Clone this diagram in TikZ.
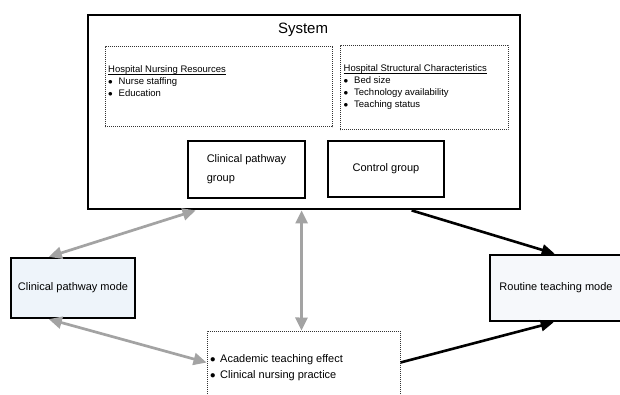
\documentclass[tikz,border=0pt]{standalone}
\usepackage{fontspec}
\setmainfont{Liberation Sans}
\usetikzlibrary{arrows.meta,calc}
\definecolor{arrgray}{HTML}{A3A3A3}
\definecolor{modefill}{HTML}{EEF4FA}
\definecolor{routfill}{HTML}{F6F8FB}
\newcommand\mybul{\makebox[10.5pt][l]{$\bullet$}}
\newcommand\mybulb{\makebox[10pt][l]{$\bullet$}}
\newcommand\myul[1]{\setbox0\hbox{#1}\rlap{\rule[-1.7pt]{\wd0}{0.6pt}}\box0}
\begin{document}
\begin{tikzpicture}[x=1pt,y=-1pt,
  sysbox/.style={draw=black, line width=2.8pt, fill=white, inner sep=0pt},
  dashbox/.style={draw=black!80, line width=1pt, dash pattern=on 1.2pt off 0.8pt, inner sep=0pt},
  groupbox/.style={draw=black, line width=1.7pt, inner sep=0pt, align=left, font=\fontsize{11}{19}\selectfont},
  modebox/.style={draw=black, line width=2.3pt, inner sep=0pt, font=\fontsize{11}{13}\selectfont},
  listtext/.style={inner sep=0pt, align=left, anchor=north west, font=\fontsize{9.5}{12}\selectfont},
  grayarrow/.style={draw=arrgray, line width=2.7pt, {Triangle[length=13pt,width=12pt]}-{Triangle[length=13pt,width=12pt]}},
  blackarrow/.style={draw=black, line width=2.6pt, -{Triangle[length=13pt,width=11pt]}}]
\useasboundingbox (0,0) rectangle (620,395);
\clip (0,0) rectangle (620,395);
\fill[white] (0,0) rectangle (620,395);

% System box
\node[sysbox, minimum width=432pt, minimum height=194pt] (sys) at (304,112) {};
\node[font=\fontsize{15}{18}\selectfont, inner sep=0pt] (systitle) at (303,30) {System};

% dashed boxes inside system
\node[dashbox, minimum width=227pt, minimum height=80pt] (nres) at (218.5,87) {};
\node[dashbox, minimum width=168pt, minimum height=84pt] (hsc) at (424,88) {};
\node[listtext] (nrestext) at (108,65.5) {\myul{Hospital Nursing Resources}\\ \mybul Nurse staffing\\ \mybul Education};
\node[listtext] (hsctext) at (343.5,64.5) {\myul{Hospital Structural Characteristics}\\ \mybul Bed size\\ \mybul Technology availability\\ \mybul Teaching status};

% group boxes
\node[groupbox, minimum width=117pt, minimum height=57pt] (cpg) at (246.5,169.5) {Clinical pathway\\group};
\node[groupbox, minimum width=116pt, minimum height=56pt] (ctl) at (386,169) {Control group};

% mode boxes
\node[modebox, fill=modefill, minimum width=124pt, minimum height=60pt] (cpm) at (73,288) {Clinical pathway mode};
\node[modebox, fill=routfill, minimum width=132pt, minimum height=66pt, line width=2.6pt] (rtm) at (556,288) {Routine teaching mode};

% bottom dashed box
\node[dashbox, minimum width=193pt, minimum height=72pt] (bot) at (303.5,367) {};
\node[listtext, font=\fontsize{11}{16}\selectfont] (bottext) at (210,354) {\mybulb Academic teaching effect\\ \mybulb Clinical nursing practice};

% connectors
\draw[grayarrow] ([xshift=39pt]cpm.north west) -- ([xshift=109pt]sys.south west);
\draw[grayarrow] ([xshift=39pt]cpm.south west) -- ([yshift=-32pt]bot.north west);
\draw[grayarrow] ([xshift=215pt]sys.south west) -- ([xshift=95pt]bot.north west);
\draw[blackarrow] ([xshift=325pt]sys.south west) -- ([xshift=66pt]rtm.north west);
\draw[blackarrow] ([yshift=-32pt]bot.north east) -- ([xshift=65pt]rtm.south west);
\end{tikzpicture}
\end{document}
